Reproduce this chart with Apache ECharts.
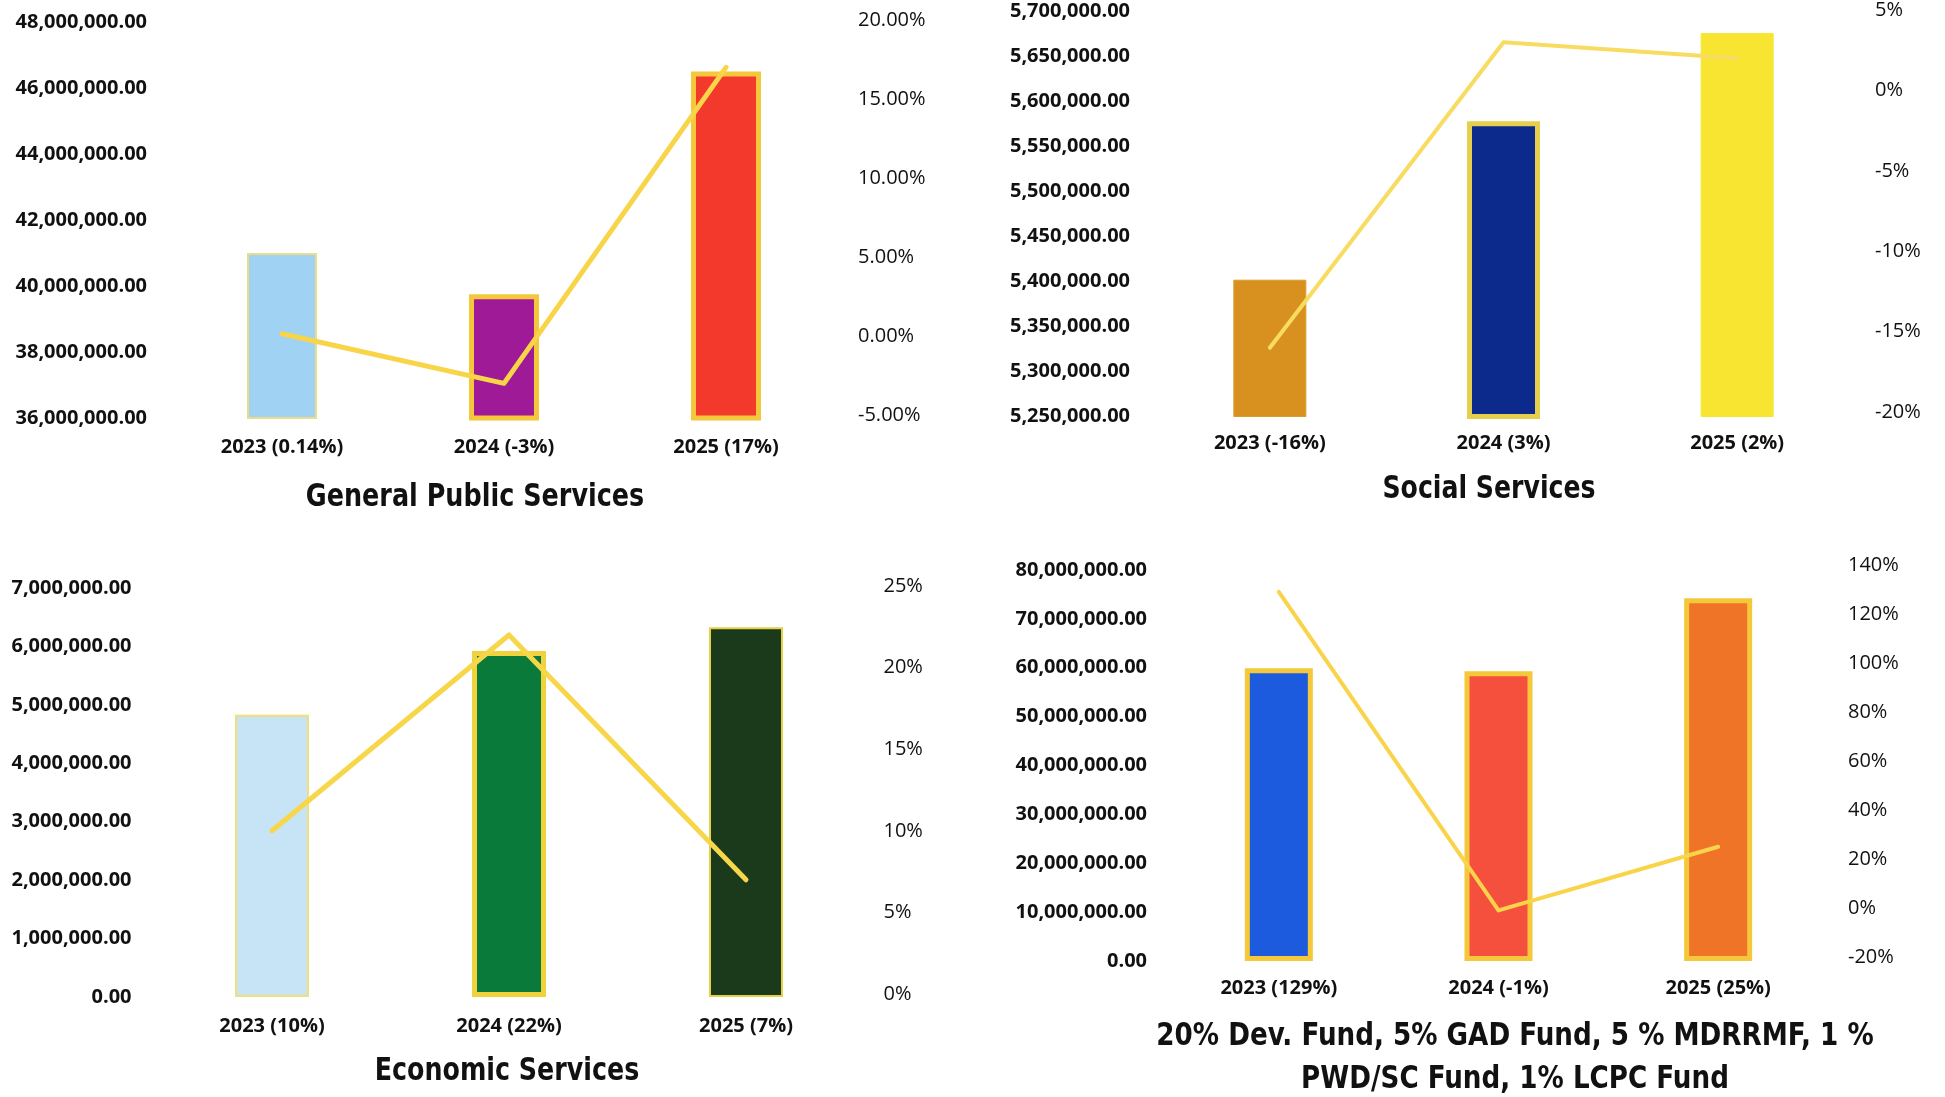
<!DOCTYPE html>
<html>
<head>
<meta charset="utf-8">
<script src="https://cdn.jsdelivr.net/npm/echarts@6/dist/echarts.min.js"></script>
<style>
  html, body { margin: 0; padding: 0; background: #ffffff; }
  #chart { width: 1945px; height: 1097px; }
</style>
</head>
<body>
<div id="chart"></div>
<script>
// ---- data ----
const years = ['2023', '2024', '2025'];

// General Public Services
const gpsBudget = [41000000, 39750000, 46500000];
const gpsGrowth = [0.14, -3, 17];

// Social Services
const socialBudget = [5402000, 5578000, 5676000];
const socialGrowth = [-16, 3, 2];

// Economic Services
const economicBudget = [4830000, 5920000, 6330000];
const economicGrowth = [10, 22, 7];

// 20% Dev. Fund, 5% GAD Fund, 5% MDRRMF, 1% PWD/SC Fund, 1% LCPC Fund
const fundBudget = [59900000, 59300000, 74200000];
const fundGrowth = [129, -1, 25];

const titles = [
  'General Public Services',
  'Social Services',
  'Economic Services',
  '20% Dev. Fund, 5% GAD Fund, 5 % MDRRMF, 1 %\nPWD/SC Fund, 1% LCPC Fund'
];

// ---- styling / layout per panel ----
const SANS = "'Open Sans', 'Noto Sans', sans-serif";
const NARROW = "'DejaVu Sans Condensed', 'DejaVu Sans', sans-serif";
const GOLD = '#f4c83a';

const panels = [
  {
    budget: gpsBudget, growth: gpsGrowth, title: titles[0],
    barGrid: { left: 171, top: 22, width: 666, height: 396 },
    lineGrid: { top: 20, height: 395 },
    money: { min: 36000000, max: 48000000, interval: 2000000 },
    pct: { min: -5, max: 20, interval: 5, decimals: 2 },
    barWidth: 70,
    fills: ['#9fd2f3', '#9e1a97', '#f2392c'],
    borders: [['#e9dc8a', 2], [GOLD, 5], [GOLD, 5]],
    lineColor: '#f8d548', lineWidth: 5,
    catMargin: 19, leftMargin: 24, rightMargin: 21,
    titleX: 475, titleY: 498, titleScale: 0.885
  },
  {
    budget: socialBudget, growth: socialGrowth, title: titles[1],
    barGrid: { left: 1153, top: 11.5, width: 701, height: 405 },
    lineGrid: { top: 7.5, height: 404.5 },
    money: { min: 5250000, max: 5700000, interval: 50000 },
    pct: { min: -20, max: 5, interval: 5, decimals: 0 },
    barWidth: 73,
    fills: ['#d8911f', '#0b2a8b', '#f7e532'],
    borders: [['#dc9a2c', 1], ['#e6cf4c', 5], ['#f7e532', 1]],
    lineColor: '#f8dc62', lineWidth: 4,
    catMargin: 17, leftMargin: 23, rightMargin: 21,
    titleX: 1489, titleY: 490, titleScale: 0.875
  },
  {
    budget: economicBudget, growth: economicGrowth, title: titles[2],
    barGrid: { left: 153.5, top: 588, width: 711, height: 409 },
    lineGrid: { top: 586, height: 408 },
    money: { min: 0, max: 7000000, interval: 1000000 },
    pct: { min: 0, max: 25, interval: 5, decimals: 0 },
    barWidth: 74,
    fills: ['#c6e4f6', '#0a7a3b', '#1b3a1c'],
    borders: [['#efe07a', 2], ['#f2d23c', 5], ['#e6d046', 2]],
    lineColor: '#f8d64a', lineWidth: 5,
    catMargin: 19, leftMargin: 22, rightMargin: 19,
    titleX: 507, titleY: 1072, titleScale: 0.88
  },
  {
    budget: fundBudget, growth: fundGrowth, title: titles[3],
    barGrid: { left: 1169, top: 570, width: 659, height: 391 },
    lineGrid: { top: 565, height: 392 },
    money: { min: 0, max: 80000000, interval: 10000000 },
    pct: { min: -20, max: 140, interval: 20, decimals: 0 },
    barWidth: 68,
    fills: ['#1c5ade', '#f5503e', '#f07428'],
    borders: [[GOLD, 5], [GOLD, 5], [GOLD, 5]],
    lineColor: '#f9d44a', lineWidth: 4,
    catMargin: 17, leftMargin: 22, rightMargin: 20,
    titleX: 1515, titleY: 1058, titleScale: 0.91, titleLine: 43
  }
];

const moneyFmt = v => v.toLocaleString('en-US', { minimumFractionDigits: 2, maximumFractionDigits: 2 });

const option = {
  backgroundColor: '#ffffff',
  animation: false,
  graphic: [],
  grid: [],
  xAxis: [],
  yAxis: [],
  series: []
};

panels.forEach((p, i) => {
  const gBar = i * 2, gLine = i * 2 + 1;
  const cats = years.map((y, k) => `${y} (${p.growth[k]}%)`);

  // panel caption, slightly condensed horizontally
  option.graphic.push({
    type: 'text',
    x: p.titleX,
    y: p.titleY,
    scaleX: p.titleScale,
    silent: true,
    style: {
      text: p.title,
      fontFamily: NARROW, fontWeight: 'bold', fontSize: 32,
      lineHeight: p.titleLine || 40,
      fill: '#111111', align: 'center', verticalAlign: 'middle'
    }
  });

  option.grid.push(
    { left: p.barGrid.left, top: p.barGrid.top, width: p.barGrid.width, height: p.barGrid.height, containLabel: false },
    { left: p.barGrid.left, top: p.lineGrid.top, width: p.barGrid.width, height: p.lineGrid.height, containLabel: false }
  );

  option.xAxis.push(
    {
      type: 'category', gridIndex: gBar, data: cats,
      axisLine: { show: false }, axisTick: { show: false }, splitLine: { show: false },
      axisLabel: {
        margin: p.catMargin, interval: 0,
        fontFamily: SANS, fontWeight: 'bold', fontSize: 20, color: '#111111'
      }
    },
    { type: 'category', gridIndex: gLine, data: cats, show: false }
  );

  option.yAxis.push(
    {
      type: 'value', gridIndex: gBar, position: 'left',
      min: p.money.min, max: p.money.max, interval: p.money.interval,
      axisLine: { show: false }, axisTick: { show: false }, splitLine: { show: false },
      axisLabel: {
        margin: p.leftMargin, formatter: moneyFmt,
        fontFamily: SANS, fontWeight: 'bold', fontSize: 20, color: '#111111'
      }
    },
    {
      type: 'value', gridIndex: gLine, position: 'right',
      min: p.pct.min, max: p.pct.max, interval: p.pct.interval,
      axisLine: { show: false }, axisTick: { show: false }, splitLine: { show: false },
      axisLabel: {
        margin: p.rightMargin, align: 'left',
        formatter: v => v.toFixed(p.pct.decimals) + '%',
        fontFamily: SANS, fontWeight: 'normal', fontSize: 20, color: '#111111'
      }
    }
  );

  option.series.push(
    {
      type: 'bar', xAxisIndex: gBar, yAxisIndex: gBar,
      barWidth: p.barWidth, z: 2,
      data: p.budget.map((v, k) => ({
        value: v,
        itemStyle: { color: p.fills[k], borderColor: p.borders[k][0], borderWidth: p.borders[k][1] }
      }))
    },
    {
      type: 'line', xAxisIndex: gLine, yAxisIndex: gLine,
      data: p.growth, symbol: 'none', z: 5,
      lineStyle: { color: p.lineColor, width: p.lineWidth, cap: 'round', join: 'round' }
    }
  );
});

const chart = echarts.init(document.getElementById('chart'), null, { renderer: 'canvas' });
chart.setOption(option);
</script>
</body>
</html>
